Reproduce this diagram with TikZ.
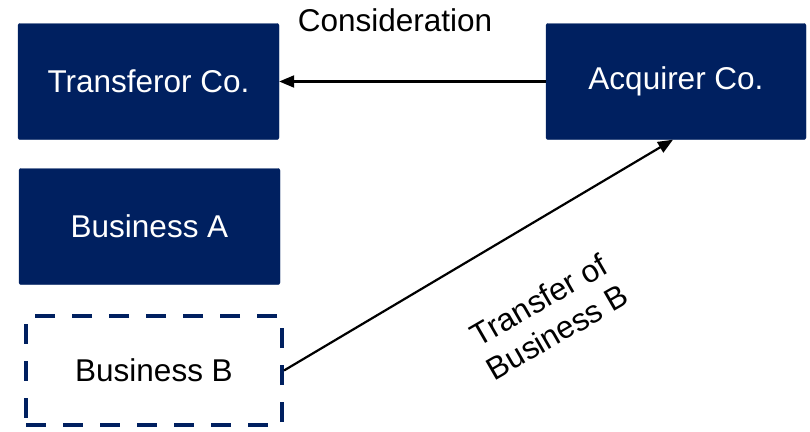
\documentclass[tikz,border=0pt]{standalone}
\usepackage{fontspec}
\setmainfont{Liberation Sans}
\usetikzlibrary{arrows.meta}
\definecolor{navy}{HTML}{002060}
\begin{document}
\begin{tikzpicture}[x=1pt,y=-1pt,
  font=\fontsize{31.5}{37}\selectfont,
  entity/.style={fill=navy, draw=navy, rounded corners=2pt, text=white,
    inner sep=0pt, minimum width=#1, minimum height=116pt},
  entity/.default=261pt,
  dashbox/.style={draw=navy, line width=4pt, dash pattern=on 20pt off 17pt,
    inner sep=0pt, minimum width=256pt, minimum height=109pt},
  flow/.style={line width=2.2pt, -{Triangle[length=15pt,width=12pt]}}]
\useasboundingbox (0,0) rectangle (810,431);
\node[entity] (tco) at (148.5,81.5) {\raisebox{-2pt}{Transferor Co.}};
\node[entity=260pt] (aco) at (676,81.5) {\raisebox{-2pt}{Acquirer Co.}};
\node[entity] (bA) at (149.5,226.5) {Business A};
\node[dashbox] (bB) at (154,370.5) {Business B};
\draw[flow] (aco.west) -- (tco.east);
\node (cons) at (395,20) {Consideration};
\draw[flow] (bB.east) -- ([xshift=-3pt]aco.south);
\node[rotate=30, align=center] (tlab) at (548,316) {Transfer of\\Business B};
\end{tikzpicture}
\end{document}
